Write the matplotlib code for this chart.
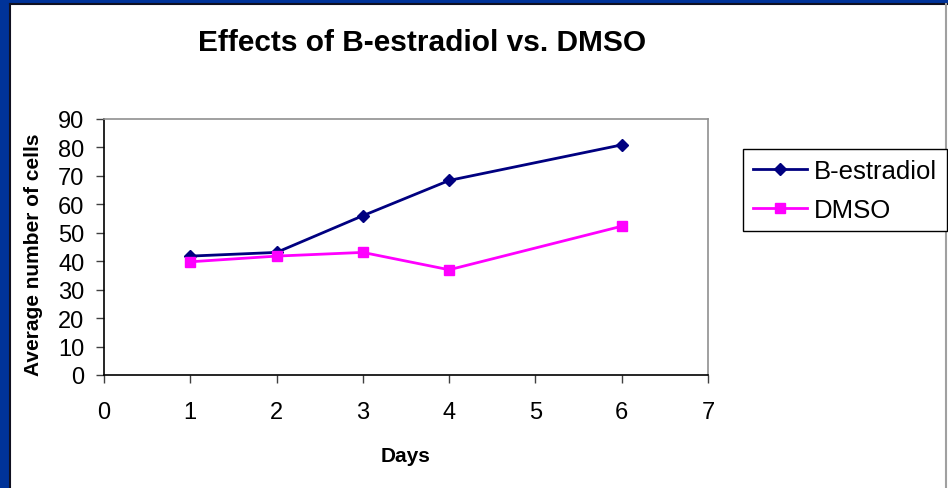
import matplotlib
matplotlib.use("Agg")
import matplotlib.pyplot as plt
from matplotlib.patches import Rectangle
from matplotlib.lines import Line2D

plt.rcParams['font.family'] = ['Liberation Sans', 'DejaVu Sans']

days_b = [1, 2, 3, 4, 6]
estradiol = [41.8, 43.1, 56.0, 68.4, 80.9]
days_d = [1, 2, 3, 4, 6]
dmso = [39.8, 41.8, 43.1, 37.0, 52.3]
xticks = [0, 1, 2, 3, 4, 5, 6, 7]
yticks = [0, 10, 20, 30, 40, 50, 60, 70, 80, 90]

W, H = 948, 489
fig = plt.figure(figsize=(W/100, H/100), dpi=100, facecolor='#003399')

# white slide area with dark edge
fig.patches.append(Rectangle((10/W, 0), 1-10/W, 1-5/H, transform=fig.transFigure,
                             facecolor='white', edgecolor='none', zorder=-5))
fig.lines.append(Line2D([10/W, 10/W], [0, 1-5/H], transform=fig.transFigure, color='#101020', lw=1.5, zorder=-4))
fig.lines.append(Line2D([10/W, 1], [1-5/H, 1-5/H], transform=fig.transFigure, color='#101020', lw=1.5, zorder=-4))
fig.lines.append(Line2D([946/W, 946/W], [0, 1-5/H], transform=fig.transFigure, color='#a0a0a0', lw=1.5, zorder=-4))

ax = fig.add_axes([104/W, 1-376/H, (708-104)/W, (376-120)/H])
ax.patch.set_alpha(0)
ax.plot(days_b, estradiol, color='#000080', lw=2, marker='D', ms=6.5, label='B-estradiol', clip_on=False)
ax.plot(days_d, dmso, color='#ff00ff', lw=2, marker='s', ms=7.5, label='DMSO', clip_on=False)

ax.set_xlim(0, 7)
ax.set_ylim(0, 90)
ax.set_xticks(xticks)
ax.set_yticks(yticks)
ax.tick_params(direction='out', length=6, width=1, color='#404040', labelsize=17)
ax.tick_params(axis='x', pad=13)
ax.tick_params(axis='y', pad=8)
for s in ['top', 'right']:
    ax.spines[s].set_color('#909090')
for s in ['left', 'bottom']:
    ax.spines[s].set_color('black')
for s in ax.spines.values():
    s.set_linewidth(1.2)

ax.set_xlabel('Days', fontsize=15, fontweight='bold', labelpad=16)
ax.set_ylabel('Average number of cells', fontsize=15, fontweight='bold')
ax.yaxis.set_label_coords(-0.101, 0.473)
fig.text(422/W, 1-43/H, 'Effects of B-estradiol vs. DMSO', ha='center', va='center',
         fontsize=21.5, fontweight='bold')

leg = fig.legend(loc='upper left', bbox_to_anchor=(743/W, 1-150/H), fontsize=18.5,
                 frameon=True, fancybox=False, edgecolor='black', framealpha=1,
                 handlelength=2.1, handletextpad=0.28, borderpad=0.38, labelspacing=0.58,
                 borderaxespad=0)
leg.get_frame().set_linewidth(1)

fig.savefig('out.png', dpi=100, facecolor=fig.get_facecolor())
